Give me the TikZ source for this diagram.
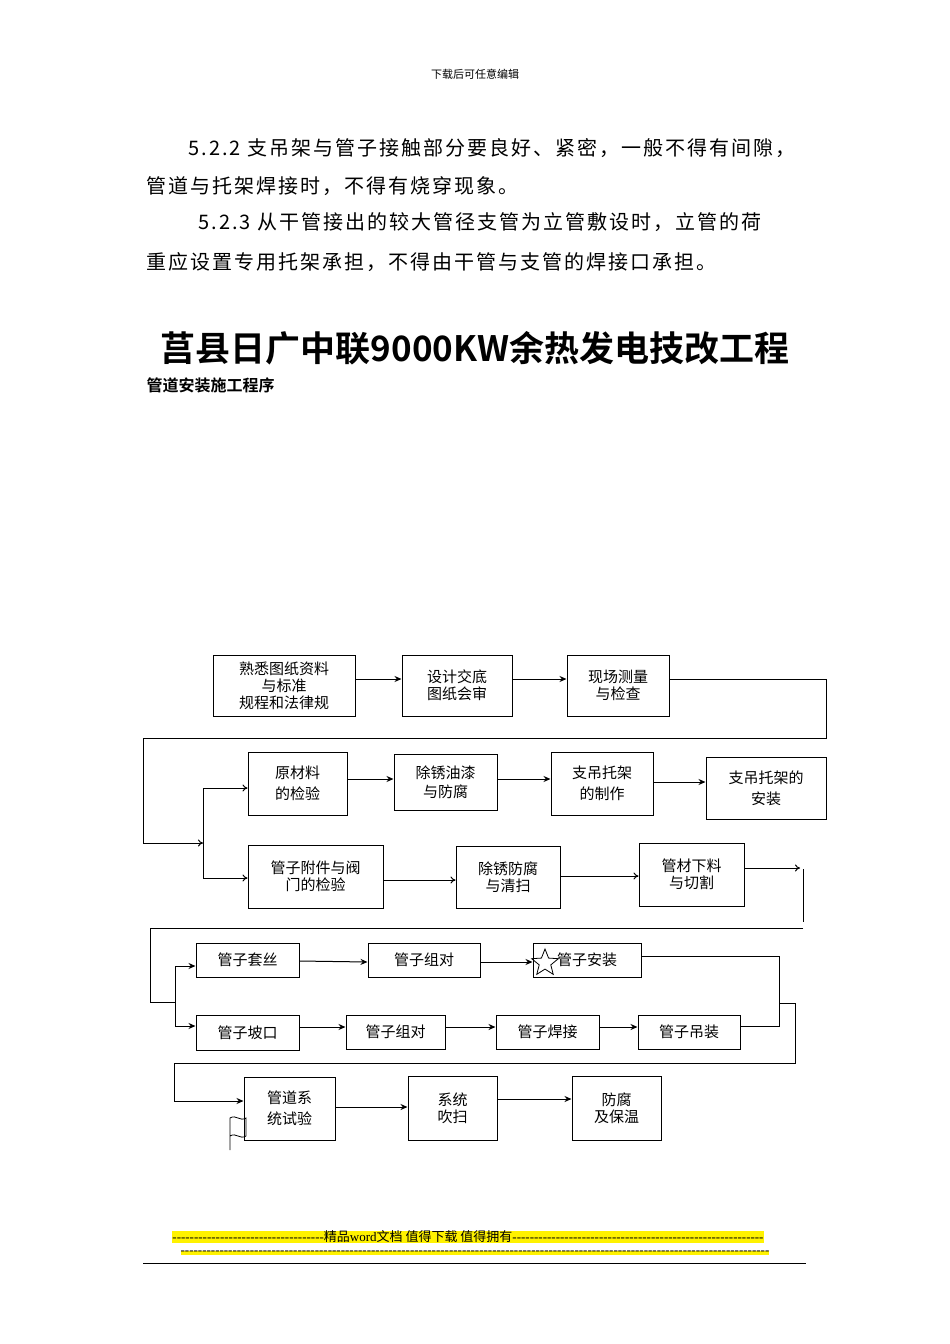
\documentclass[tikz,border=0pt]{standalone}
\usepackage{fontspec}
\setmainfont{Noto Sans CJK SC}
\newfontfamily\tfont{Noto Sans CJK SC Bold}
\newfontfamily\pfont{Noto Sans CJK SC}[LetterSpace=10]
\newfontfamily\ffont{Liberation Serif}[Ligatures=TeXOff]
\newfontfamily\fcjk{Noto Sans CJK SC}[Ligatures=TeXOff]
\usetikzlibrary{arrows.meta,shapes.geometric}
\begin{document}
\begin{tikzpicture}[x=1pt,y=-1pt,
 bx/.style={draw,line width=1pt,inner sep=0pt,font=\fontsize{15}{17}\selectfont,align=center},
 ar/.style={line width=1pt,-{Stealth[length=7pt,width=6pt]}},
 oa/.style={line width=1pt,-{To[length=5pt,width=7pt]}},
 ln/.style={line width=1pt},
 para/.style={anchor=west,font=\pfont\fontsize{20}{22}\selectfont}]
\useasboundingbox (0,0) rectangle (950,1344);
\node[font=\fontsize{11}{12}\selectfont] (hd) at (475,74) {下载后可任意编辑};
\node[para] (p1) at (185,148) {5.2.2 支吊架与管子接触部分要良好、紧密，一般不得有间隙，};
\node[para] (p2) at (143,186) {管道与托架焊接时，不得有烧穿现象。};
\node[para] (p3) at (195,222) {5.2.3 从干管接出的较大管径支管为立管敷设时，立管的荷};
\node[para] (p4) at (143,262) {重应设置专用托架承担，不得由干管与支管的焊接口承担。};
\node[font=\tfont\fontsize{35}{38}\selectfont] (tt) at (475,348) {莒县日广中联9000KW余热发电技改工程};
\node[anchor=west,font=\tfont\fontsize{16}{18}\selectfont] (st) at (143,385) {管道安装施工程序};

\node[bx,minimum width=142,minimum height=61] (a1) at (284,685.5) {熟悉图纸资料\\与标准\\规程和法律规};
\node[bx,minimum width=110,minimum height=61] (a2) at (457,685.5) {设计交底\\图纸会审};
\node[bx,minimum width=102,minimum height=61] (a3) at (618,685.5) {现场测量\\与检查};
\node[bx,minimum width=99,minimum height=63] (b1) at (297.5,783.5) {原材料\\[4pt]的检验};
\node[bx,minimum width=103,minimum height=56] (b2) at (445.5,782) {除锈油漆\\[2pt]与防腐};
\node[bx,minimum width=102,minimum height=63] (b3) at (602,783.5) {支吊托架\\[4pt]的制作};
\node[bx,minimum width=120,minimum height=62] (b4) at (766,788) {支吊托架的\\[4pt]安装};
\node[bx,minimum width=135,minimum height=63] (c1) at (315.5,876.5) {管子附件与阀\\门的检验};
\node[bx,minimum width=104,minimum height=62] (c2) at (508,877) {除锈防腐\\与清扫};
\node[bx,minimum width=105,minimum height=63] (c3) at (691.5,874.5) {管材下料\\与切割};
\node[bx,minimum width=103,minimum height=34] (d1) at (247.5,960) {管子套丝};
\node[bx,minimum width=112,minimum height=34] (d2) at (424,960) {管子组对};
\node[bx,minimum width=108,minimum height=34] (d3) at (587,960) {管子安装};
\node[bx,minimum width=103,minimum height=35] (e1) at (247.5,1032.5) {管子坡口};
\node[bx,minimum width=99,minimum height=34] (e2) at (395.5,1032) {管子组对};
\node[bx,minimum width=103,minimum height=34] (e3) at (547.5,1032) {管子焊接};
\node[bx,minimum width=102,minimum height=34] (e4) at (689,1032) {管子吊装};
\node[bx,minimum width=91,minimum height=63] (f1) at (289.5,1108.5) {管道系\\[4pt]统试验};
\node[bx,minimum width=89,minimum height=64] (f2) at (452.5,1108) {系统\\吹扫};
\node[bx,minimum width=89,minimum height=64] (f3) at (616.5,1108) {防腐\\及保温};

\draw[ar] (a1.east|-0,679) -- (a2.west|-0,679);
\draw[ar] (a2.east|-0,679) -- (a3.west|-0,679);
\coordinate (s1) at (203,843);
\draw[ln] (a3.east|-0,679) -- (826,679) -- (826,738) -- (143,738) -- (143,843);
\draw[oa] (143,843) -- (s1);
\draw[ln] (203,788) -- (203,878);
\draw[oa] (203,788) -- (b1.west|-0,788);
\draw[oa] (203,878) -- (c1.west|-0,878);
\draw[ar] (b1.east|-0,779) -- (b2.west|-0,779);
\draw[ar] (b2.east|-0,779) -- (b3.west|-0,779);
\draw[ar] (b3.east|-0,782) -- (b4.west|-0,782);
\draw[oa] (c1.east|-0,880) -- (c2.west|-0,880);
\draw[oa] (c2.east|-0,876) -- (c3.west|-0,876);
\coordinate (s2) at (800,868);
\draw[oa] (c3.east|-0,868) -- (s2);
\draw[ln] (803,869) -- (803,922);
\draw[ln] (803,928) -- (150,928) -- (150,1002) -- (175,1002);
\draw[ln] (175,966) -- (175,1026);
\draw[ar] (175,966) -- (d1.west|-0,966);
\draw[ar] (175,1026) -- (e1.west|-0,1026);
\draw[ar] (d1.east|-0,961) -- (d2.west|-0,962);
\draw[ar] (d2.east|-0,962) -- (d3.west|-0,962);
\draw[ln] (d3.east|-0,956) -- (779,956) -- (779,1026) -- (e4.east|-0,1026);
\draw[ar] (e1.east|-0,1027) -- (e2.west|-0,1027);
\draw[ar] (e2.east|-0,1027) -- (e3.west|-0,1027);
\draw[ar] (e3.east|-0,1027) -- (e4.west|-0,1027);
\draw[ln] (779,1003) -- (795,1003) -- (795,1063) -- (174,1063) -- (174,1101);
\draw[ar] (174,1101) -- (f1.west|-0,1101);
\draw[ar] (f1.east|-0,1107) -- (f2.west|-0,1107);
\draw[ar] (f2.east|-0,1099) -- (f3.west|-0,1099);
\node[star,star points=5,star point ratio=2.3,draw,line width=0.8pt,minimum size=28pt,inner sep=0pt] (sx) at (545,963) {};
\draw[line width=0.8pt] (230,1150) -- (230,1118) .. controls (236,1114) and (240,1122) .. (246,1118) -- (246,1136) .. controls (240,1140) and (236,1132) .. (230,1136);

\node[fill=yellow,inner sep=0pt,font=\ffont\fontsize{13}{14}\selectfont] (ft1) at (468,1237) {-----------------------------------{\fcjk 精品}word{\fcjk 文档 值得下载 值得拥有}----------------------------------------------------------};
\node[fill=yellow,inner sep=0pt,font=\ffont\fontsize{13}{14}\selectfont] (ft2) at (475,1253) {----------------------------------------------------------------------------------------------------------------------------------------};
\draw[line width=0.6pt] (143,1263) -- (806,1263);
\end{tikzpicture}
\end{document}
